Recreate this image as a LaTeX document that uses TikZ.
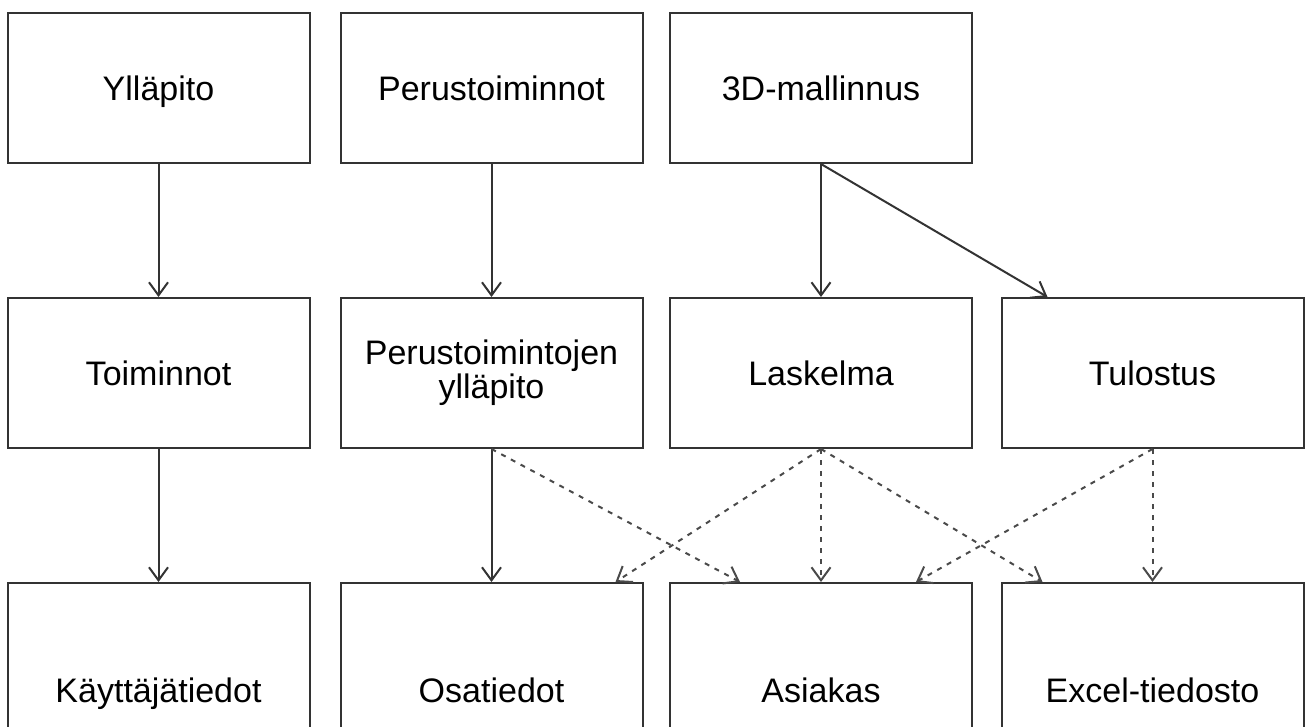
\documentclass[tikz,border=0pt]{standalone}
\usepackage{fontspec}
\setmainfont{Liberation Sans}
\definecolor{ln_color}{HTML}{333333}
\definecolor{dash_color}{HTML}{4A4A4A}
\usetikzlibrary{arrows.meta}
\tikzset{
  box/.style={draw=ln_color, line width=1pt, minimum width=151pt, minimum height=75pt,
    inner sep=0pt, font=\fontsize{17}{15}\selectfont, align=center,
    text height=13pt, text depth=0.8pt},
  lowbox/.style={box, minimum height=107pt},
  link/.style={draw=ln_color, line width=1pt, -{Straight Barb[length=6.5pt,width=9.5pt]}},
  weak/.style={link, draw=dash_color, dash pattern=on 2.5pt off 3pt}
}

\begin{document}
\begin{tikzpicture}[x=0.5pt, y=-0.5pt]
        \useasboundingbox (0,0) rectangle (1306,727);
        % top row
        \node[box] (yllapito) at (158.5,88) {Ylläpito};
        \node[box] (perus) at (491.5,88) {Perustoiminnot};
        \node[box] (malli) at (821,88) {3D-mallinnus};
        % middle row
        \node[box] (toiminnot) at (158.5,373) {Toiminnot};
        \node[box, text height=, text depth=] (perusyp) at (491.5,373) {Perustoimintojen\\ylläpito};
        \node[box] (laskelma) at (821,373) {Laskelma};
        \node[box] (tulostus) at (1152.5,373) {Tulostus};
        % bottom row, cut by the page edge
        \begin{scope}
          \clip (0,0) rectangle (1306,727);
          \node[lowbox] (kayttaja) at (158.5,690) {Käyttäjätiedot};
          \node[lowbox] (osat) at (491.5,690) {Osatiedot};
          \node[lowbox] (asiakas) at (821,690) {Asiakas};
          \node[lowbox] (excel) at (1152.5,690) {Excel-tiedosto};
        \end{scope}
        % solid links
        \draw[link] (yllapito) -- (toiminnot);
        \draw[link] (toiminnot) -- (kayttaja);
        \draw[link] (perus) -- (perusyp);
        \draw[link] (perusyp) -- (osat);
        \draw[link] (malli) -- (laskelma);
        \draw[link] (malli.south) -- ([xshift=-52.5pt]tulostus.north);
        % dashed links
        \draw[weak] (perusyp.south) -- ([xshift=-40.5pt]asiakas.north);
        \draw[weak] (laskelma.south) -- ([xshift=62pt]osat.north);
        \draw[weak] (laskelma.south) -- (asiakas.north);
        \draw[weak] (laskelma.south) -- ([xshift=-55pt]excel.north);
        \draw[weak] (tulostus.south) -- ([xshift=47.5pt]asiakas.north);
        \draw[weak] (tulostus.south) -- (excel.north);
      \end{tikzpicture}
\end{document}
